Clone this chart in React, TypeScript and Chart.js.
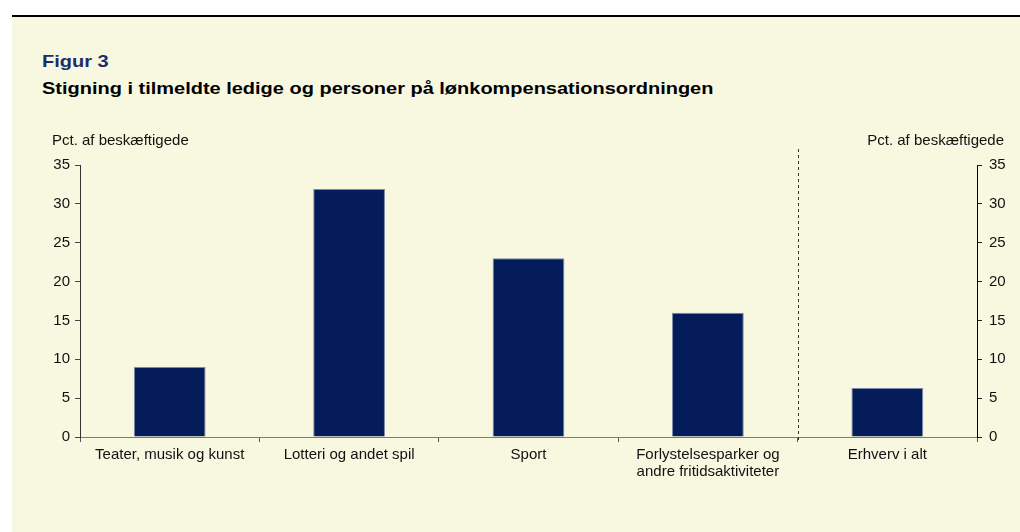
import React, { useEffect, useRef } from "react";
import { Chart, registerables } from "chart.js";

Chart.register(...registerables);

const categories: string[][] = [
  ["Teater, musik og kunst"],
  ["Lotteri og andet spil"],
  ["Sport"],
  ["Forlystelsesparker og", "andre fritidsaktiviteter"],
  ["Erhverv i alt"],
];
const values: number[] = [9.0, 31.9, 23.0, 16.0, 6.3];
const yMin = 0;
const yMax = 35;
const yStep = 5;
const axisTitle = "Pct. af beskæftigede";
const figureLabel = "Figur 3";
const figureTitle = "Stigning i tilmeldte ledige og personer på lønkompensationsordningen";

const FONT = "'Liberation Sans', Arial, Helvetica, sans-serif";

const overlayPlugin = {
  id: "overlay",
  afterDatasetsDraw(chart: any) {
    const { ctx, chartArea, scales } = chart;
    const x = scales.x;
    const sepX = Math.round((x.getPixelForValue(3) + x.getPixelForValue(4)) / 2) + 0.5;
    ctx.save();
    ctx.strokeStyle = "#333333";
    ctx.lineWidth = 1;
    ctx.setLineDash([3, 3]);
    ctx.beginPath();
    ctx.moveTo(sepX, chartArea.top - 16);
    ctx.lineTo(sepX, chartArea.bottom + 5);
    ctx.stroke();
    ctx.setLineDash([]);
    ctx.fillStyle = "#111111";
    ctx.font = `15px ${FONT}`;
    ctx.textBaseline = "middle";
    ctx.textAlign = "left";
    ctx.fillText(axisTitle, 52, chartArea.top - 24);
    ctx.textAlign = "right";
    ctx.fillText(axisTitle, 1004, chartArea.top - 24);
    ctx.restore();
  },
};

export default function App() {
  const canvasRef = useRef<HTMLCanvasElement | null>(null);

  useEffect(() => {
    if (!canvasRef.current) return;
    const tickFont = { family: FONT, size: 15 };
    const chart = new Chart(canvasRef.current, {
      type: "bar",
      data: {
        labels: categories,
        datasets: [
          {
            data: values,
            backgroundColor: "#041c5a",
            borderColor: "#7d88a8",
            borderWidth: 1,
            barPercentage: 0.4,
            categoryPercentage: 1,
            yAxisID: "y",
          },
        ],
      },
      options: {
        responsive: false,
        animation: false,
        layout: { padding: { top: 165, left: 0, right: 0, bottom: 0 } },
        plugins: {
          legend: { display: false },
          tooltip: { enabled: false },
          title: { display: false },
        },
        scales: {
          x: {
            offset: true,
            grid: {
              display: true,
              offset: true,
              drawOnChartArea: false,
              drawTicks: true,
              tickLength: 5,
              color: "#555555",
            },
            border: { color: "#7a7a7a", width: 1 },
            ticks: {
              font: { family: FONT, size: 15, lineHeight: 1.1 },
              color: "#111111",
              padding: 5,
              maxRotation: 0,
              autoSkip: false,
            },
            afterFit(scale: any) {
              scale.height = 95;
            },
          },
          y: {
            position: "left",
            min: yMin,
            max: yMax,
            grid: {
              drawOnChartArea: false,
              drawTicks: true,
              tickLength: 5,
              color: "#444444",
            },
            border: { color: "#333333", width: 1 },
            ticks: {
              stepSize: yStep,
              font: tickFont,
              color: "#111111",
              padding: 5,
            },
            afterFit(scale: any) {
              scale.width = 80;
            },
          },
          y2: {
            position: "right",
            min: yMin,
            max: yMax,
            grid: {
              drawOnChartArea: false,
              drawTicks: true,
              tickLength: 5,
              color: "#222222",
            },
            border: { color: "#000000", width: 1 },
            ticks: {
              stepSize: yStep,
              font: tickFont,
              color: "#111111",
              padding: 7,
            },
            afterFit(scale: any) {
              scale.width = 43;
            },
          },
        },
      },
      plugins: [overlayPlugin],
    });
    return () => chart.destroy();
  }, []);

  const titleBase: React.CSSProperties = {
    position: "absolute",
    left: 42,
    fontSize: 17,
    fontWeight: "bold",
    whiteSpace: "nowrap",
    lineHeight: "20px",
    transform: "scaleX(1.175)",
    transformOrigin: "left center",
  };

  return (
    <div
      style={{
        position: "absolute",
        left: 0,
        top: 0,
        width: 1020,
        height: 532,
        background: "#ffffff",
        overflow: "hidden",
        fontFamily: FONT,
      }}
    >
      <div
        style={{
          position: "absolute",
          left: 12,
          top: 15,
          right: 0,
          height: 2,
          background: "#000000",
        }}
      />
      <div
        style={{
          position: "absolute",
          left: 12,
          top: 17,
          right: 0,
          bottom: 0,
          background: "#f8f8e1",
        }}
      />
      <div style={{ ...titleBase, top: 52, color: "#1b2c6b" }}>{figureLabel}</div>
      <div style={{ ...titleBase, top: 79, color: "#000000" }}>{figureTitle}</div>
      <canvas
        ref={canvasRef}
        width={1020}
        height={532}
        style={{ position: "absolute", left: 0, top: 0, width: 1020, height: 532 }}
      />
    </div>
  );
}
